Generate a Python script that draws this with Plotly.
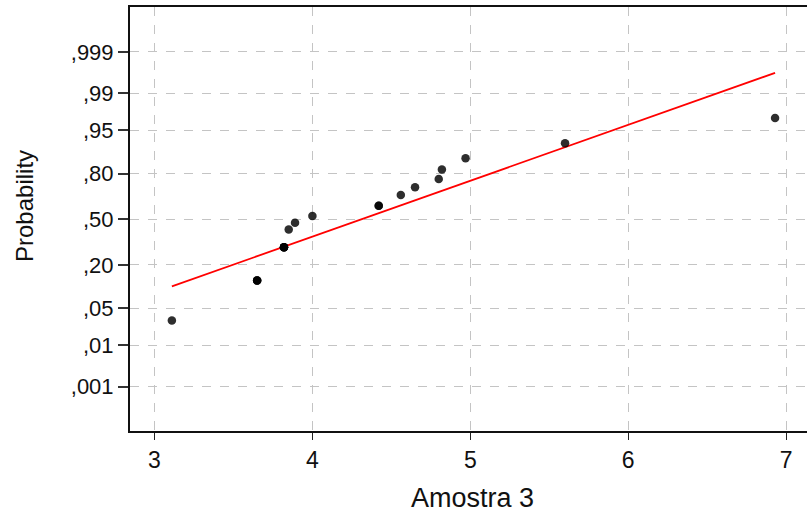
import plotly.graph_objects as go
from statistics import NormalDist

# Observed values (sorted), with repeated measurements
amostra3 = [3.11, 3.65, 3.65, 3.65, 3.82, 3.82, 3.82, 3.82, 3.85, 3.89,
            4.00, 4.42, 4.42, 4.56, 4.65, 4.80, 4.82, 4.97, 5.60, 6.93]

# Probability axis ticks and their labels (comma decimal style)
prob_ticks = [0.001, 0.01, 0.05, 0.20, 0.50, 0.80, 0.95, 0.99, 0.999]
prob_labels = [",001", ",01", ",05", ",20", ",50", ",80", ",95", ",99", ",999"]
x_ticks = [3, 4, 5, 6, 7]

# Parameters of the reference normal line
fit_mean = 4.31
fit_sd = 0.97

nd = NormalDist()

# Blom plotting positions, tied values share their mean rank
vals = sorted(amostra3)
n = len(vals)
ranks = []
i = 0
while i < n:
    j = i
    while j + 1 < n and vals[j + 1] == vals[i]:
        j += 1
    mean_rank = (i + 1 + j + 1) / 2
    ranks.extend([mean_rank] * (j - i + 1))
    i = j + 1
probs = [(r - 0.375) / (n + 0.25) for r in ranks]
z_pts = [nd.inv_cdf(p) for p in probs]

line_x = [min(vals), max(vals)]
line_z = [(x - fit_mean) / fit_sd for x in line_x]

fig = go.Figure()
fig.add_trace(go.Scatter(
    x=line_x, y=line_z, mode="lines",
    line=dict(color="#ff0000", width=1.8),
    hoverinfo="skip", showlegend=False,
))
fig.add_trace(go.Scatter(
    x=vals, y=z_pts, mode="markers",
    marker=dict(color="rgba(0,0,0,0.82)", size=8.5, line=dict(width=0)),
    showlegend=False,
))

W, H = 807, 512
L, R, T, B = 130, 0, 7, 81
grid = dict(showgrid=True, gridcolor="#c4c4c4", gridwidth=1, griddash="dash")
tick_font = "Liberation Sans, Arial, sans-serif"

fig.update_layout(
    width=W, height=H,
    margin=dict(l=L, r=R, t=T, b=B, pad=0),
    paper_bgcolor="white", plot_bgcolor="white",
    font=dict(family=tick_font, color="#111111"),
    xaxis=dict(
        range=[2.8448, 7.1323], tickvals=x_ticks, ticktext=[str(t) for t in x_ticks],
        ticks="outside", ticklen=7, tickwidth=1, tickcolor="#222222",
        showline=True, linecolor="#111111", linewidth=2, mirror=True,
        tickfont=dict(family=tick_font, size=23, color="#111111"),
        zeroline=False, **grid,
    ),
    yaxis=dict(
        range=[-3.906, 3.917], tickvals=[nd.inv_cdf(p) for p in prob_ticks],
        ticktext=prob_labels,
        ticks="outside", ticklen=10, tickwidth=1.5, tickcolor="#333333",
        showline=True, linecolor="#111111", linewidth=2,
        tickfont=dict(family=tick_font, size=22, color="#111111"),
        zeroline=False, **grid,
    ),
    annotations=[
        dict(text="Amostra 3", xref="paper", yref="paper",
             x=(472 - L) / (W - L - R), y=-(498 - (H - B)) / (H - T - B),
             xanchor="center", yanchor="middle", showarrow=False,
             font=dict(size=27)),
        dict(text="Probability", xref="paper", yref="paper",
             x=(24 - L) / (W - L - R), y=((H - B) - 206) / (H - T - B),
             xanchor="center", yanchor="middle", showarrow=False,
             textangle=-90, font=dict(size=24)),
    ],
)

fig.write_html("out.html")
